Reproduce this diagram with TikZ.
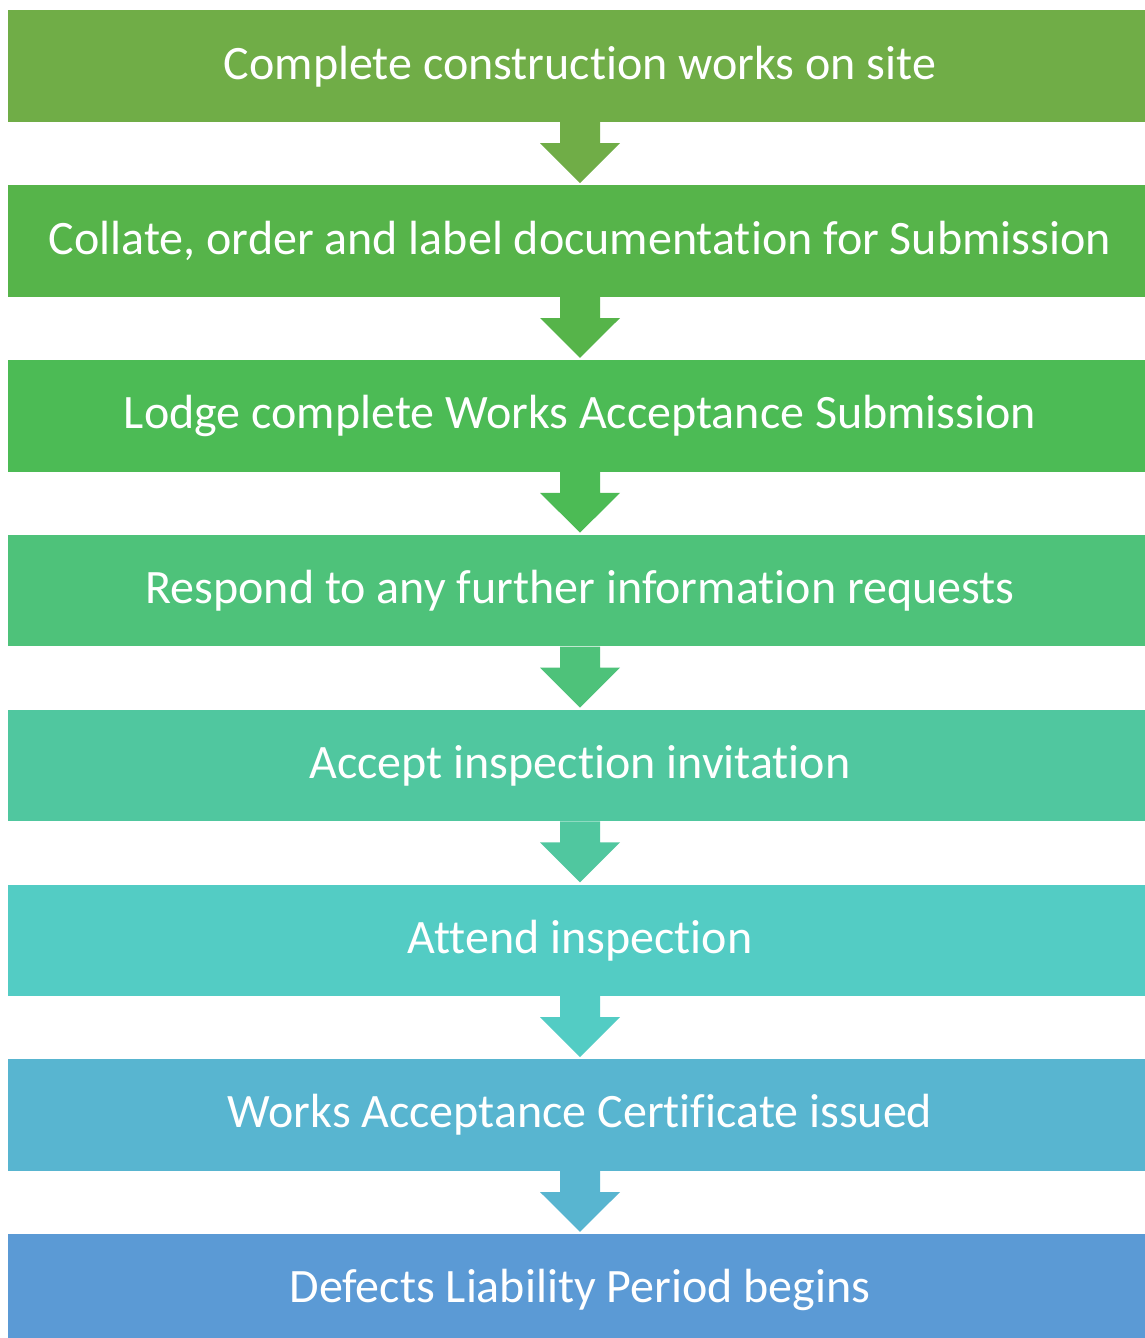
\documentclass[tikz,border=0pt]{standalone}
\usepackage{fontspec}
\setmainfont{Carlito}[Ligatures=NoCommon]
\usetikzlibrary{calc}
\definecolor{cA}{HTML}{70AD47}
\definecolor{cB}{HTML}{56B44A}
\definecolor{cC}{HTML}{4CBB55}
\definecolor{cD}{HTML}{4EC27A}
\definecolor{cE}{HTML}{50C79F}
\definecolor{cF}{HTML}{53CCC4}
\definecolor{cG}{HTML}{58B5D0}
\definecolor{cH}{HTML}{5B9AD5}
\tikzset{
  stepbox/.style={fill=#1, draw=none, minimum width=1145pt, minimum height=111.5pt,
    inner sep=0pt, text=white, font=\fontsize{48}{56}\selectfont},
  downarrow/.style={fill=#1, draw=none}
}
% block arrow from the bottom of one step to the top of the next
\newcommand{\stepdown}[3]{%
  \fill[downarrow=#3]
    ($(#1.south)+(-20,0)$) -- ($(#1.south)+(20,0)$) --
    ($(#1.south)+(20,21)$) -- ($(#1.south)+(40,21)$) --
    ($(#2.north)+(0,-2)$) --
    ($(#1.south)+(-40,21)$) -- ($(#1.south)+(-20,21)$) -- cycle;}
\begin{document}
\begin{tikzpicture}[x=1pt,y=-1pt]
\useasboundingbox (0,0) rectangle (1145,1338);
\clip (0,0) rectangle (1145,1338);
\node[stepbox=cA] (s1) at (580,66.25) {Complete construction works on site};
\node[stepbox=cB] (s2) at (580,241.05) {Collate, order and label documentation for Submission};
\node[stepbox=cC] (s3) at (580,415.85) {Lodge complete Works Acceptance Submission};
\node[stepbox=cD] (s4) at (580,590.65) {Respond to any further information requests};
\node[stepbox=cE] (s5) at (580,765.45) {Accept inspection invitation};
\node[stepbox=cF] (s6) at (580,940.25) {Attend inspection};
\node[stepbox=cG] (s7) at (580,1115.05) {Works Acceptance Certificate issued};
\node[stepbox=cH] (s8) at (580,1289.85) {Defects Liability Period begins};
\stepdown{s1}{s2}{cA}
\stepdown{s2}{s3}{cB}
\stepdown{s3}{s4}{cC}
\stepdown{s4}{s5}{cD}
\stepdown{s5}{s6}{cE}
\stepdown{s6}{s7}{cF}
\stepdown{s7}{s8}{cG}
\end{tikzpicture}
\end{document}
